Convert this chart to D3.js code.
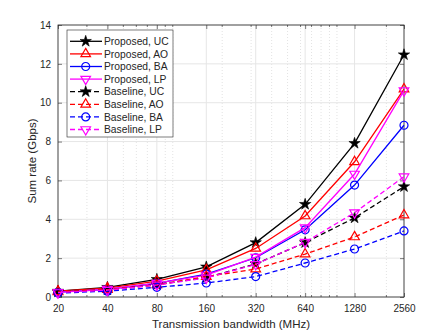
<!DOCTYPE html>
<html lang="en">
<head>
<meta charset="utf-8">
<title>Sum rate vs bandwidth</title>
<script src="https://cdn.jsdelivr.net/npm/d3@7"></script>
<style>
  body { margin: 0; background: white; font-family: "Liberation Sans", Arial, sans-serif; }
  svg { background: white; }
  .tick text { font-size: 10px; fill: #262626; font-family: "Liberation Sans", Arial, sans-serif; }
  .lbl { font-size: 11.5px; fill: #262626; }
  .leg text { font-size: 10.3px; fill: #262626; }
</style>
</head>
<body>
<svg id="chart"></svg>
<script>
// data
var bandwidth = [20, 40, 80, 160, 320, 640, 1280, 2560];
var yTicks = [0, 2, 4, 6, 8, 10, 12, 14];
var minorX = [30, 50, 60, 70, 90, 100, 200, 300, 400, 500, 600, 700, 800, 900, 1000, 2000];

var propUC = [0.30, 0.50, 0.91, 1.55, 2.80, 4.77, 7.91, 12.47];
var propAO = [0.30, 0.46, 0.82, 1.40, 2.50, 4.17, 6.96, 10.70];
var propBA = [0.25, 0.39, 0.70, 1.18, 2.02, 3.46, 5.76, 8.84];
var propLP = [0.24, 0.40, 0.71, 1.13, 2.05, 3.57, 6.33, 10.62];
var baseUC = [0.26, 0.36, 0.64, 1.00, 1.70, 2.80, 4.07, 5.68];
var baseAO = [0.26, 0.38, 0.62, 1.05, 1.44, 2.21, 3.09, 4.22];
var baseBA = [0.20, 0.30, 0.50, 0.72, 1.05, 1.75, 2.47, 3.40];
var baseLP = [0.23, 0.35, 0.62, 0.98, 1.68, 2.82, 4.34, 6.19];

var series = [
  {name: "Proposed, UC", vals: propUC, color: "#000000", mark: "star", dash: false},
  {name: "Proposed, AO", vals: propAO, color: "#ff0000", mark: "tri", dash: false},
  {name: "Proposed, BA", vals: propBA, color: "#0000ff", mark: "circ", dash: false},
  {name: "Proposed, LP", vals: propLP, color: "#ff00ff", mark: "trid", dash: false},
  {name: "Baseline, UC", vals: baseUC, color: "#000000", mark: "star", dash: true},
  {name: "Baseline, AO", vals: baseAO, color: "#ff0000", mark: "tri", dash: true},
  {name: "Baseline, BA", vals: baseBA, color: "#0000ff", mark: "circ", dash: true},
  {name: "Baseline, LP", vals: baseLP, color: "#ff00ff", mark: "trid", dash: true}
];

var W = 447, H = 335;
var margin = {top: 25, right: 43, bottom: 38, left: 58};
var width = W - margin.left - margin.right;
var height = H - margin.top - margin.bottom;

var svg = d3.select("#chart").attr("width", W).attr("height", H);
var g = svg.append("g").attr("transform", "translate(" + margin.left + "," + margin.top + ")");

var x = d3.scaleLog().base(2).domain([20, 2560]).range([0, width]);
var y = d3.scaleLinear().domain([0, 14]).range([height, 0]);

// grid
g.selectAll(".minor").data(minorX).enter().append("line")
  .attr("x1", d => x(d)).attr("x2", d => x(d))
  .attr("y1", 0).attr("y2", height)
  .attr("stroke", "#dcdcdc").attr("stroke-dasharray", "1,2").attr("stroke-width", 0.8);
g.selectAll(".gx").data(bandwidth).enter().append("line")
  .attr("x1", d => x(d)).attr("x2", d => x(d))
  .attr("y1", 0).attr("y2", height)
  .attr("stroke", "#e6e6e6").attr("stroke-width", 1);
g.selectAll(".gy").data(yTicks).enter().append("line")
  .attr("x1", 0).attr("x2", width)
  .attr("y1", d => y(d)).attr("y2", d => y(d))
  .attr("stroke", "#e6e6e6").attr("stroke-width", 1);

// axes (ticks inward, box)
var axisColor = "#262626";
g.append("g").attr("transform", "translate(0," + height + ")")
  .call(d3.axisBottom(x).tickValues(bandwidth).tickFormat(d3.format("d")).tickSizeInner(-4).tickSizeOuter(0).tickPadding(8));
g.append("g")
  .call(d3.axisLeft(y).tickValues(yTicks).tickSizeInner(-4).tickSizeOuter(0).tickPadding(7));
g.append("g").call(d3.axisTop(x).tickValues(bandwidth).tickFormat("").tickSizeInner(-4).tickSizeOuter(0));
g.append("g").attr("transform", "translate(" + width + ",0)")
  .call(d3.axisRight(y).tickValues(yTicks).tickFormat("").tickSizeInner(-4).tickSizeOuter(0));
// minor ticks
g.selectAll(".mt").data(minorX).enter().append("line")
  .attr("x1", d => x(d)).attr("x2", d => x(d))
  .attr("y1", height).attr("y2", height - 2)
  .attr("stroke", axisColor).attr("stroke-width", 0.6);
g.selectAll(".mtt").data(minorX).enter().append("line")
  .attr("x1", d => x(d)).attr("x2", d => x(d))
  .attr("y1", 0).attr("y2", 2)
  .attr("stroke", axisColor).attr("stroke-width", 0.6);
g.selectAll(".domain").remove();
g.selectAll(".tick line").attr("stroke", axisColor).attr("stroke-width", 0.6);
g.append("rect").attr("width", width).attr("height", height)
  .attr("fill", "none").attr("stroke", axisColor).attr("stroke-width", 0.8);

// labels
svg.append("text").attr("class", "lbl").attr("text-anchor", "middle")
  .attr("x", margin.left + width / 2).attr("y", H - 7)
  .text("Transmission bandwidth (MHz)");
svg.append("text").attr("class", "lbl").attr("text-anchor", "middle")
  .attr("transform", "translate(36," + (margin.top + height / 2) + ") rotate(-90)")
  .text("Sum rate (Gbps)");

// markers
function drawMarker(sel, s) {
  if (s.mark == "circ") {
    sel.append("circle").attr("r", 4)
      .attr("fill", "none").attr("stroke", s.color).attr("stroke-width", 1.2);
  } else if (s.mark == "star") {
    sel.append("path").attr("d", d3.symbol().type(d3.symbolStar).size(40)())
      .attr("fill", s.color).attr("stroke", s.color).attr("stroke-width", 0.6);
  } else {
    var rot = s.mark == "tri" ? 0 : 180;
    sel.append("path").attr("d", d3.symbol().type(d3.symbolTriangle).size(40)())
      .attr("transform", "rotate(" + rot + ")")
      .attr("fill", "none").attr("stroke", s.color).attr("stroke-width", 1.2);
  }
}

var line = d3.line().x((d, i) => x(bandwidth[i])).y(d => y(d));

series.forEach(function(s) {
  g.append("path").datum(s.vals)
    .attr("d", line)
    .attr("fill", "none").attr("stroke", s.color).attr("stroke-width", 1.3)
    .attr("stroke-dasharray", s.dash ? "5,3" : null);
  g.selectAll(null).data(s.vals).enter().append("g")
    .attr("transform", (d, i) => "translate(" + x(bandwidth[i]) + "," + y(d) + ")")
    .each(function() { drawMarker(d3.select(this), s); });
});

// legend
var leg = svg.append("g").attr("class", "leg").attr("transform", "translate(67,30)");
leg.append("rect").attr("width", 106).attr("height", 107)
  .attr("fill", "white").attr("stroke", axisColor).attr("stroke-width", 0.6);
series.forEach(function(s, i) {
  var row = leg.append("g").attr("transform", "translate(0," + (11.3 + i * 12.6) + ")");
  row.append("line").attr("x1", 3).attr("x2", 35).attr("y1", 0).attr("y2", 0)
    .attr("stroke", s.color).attr("stroke-width", 1.3)
    .attr("stroke-dasharray", s.dash ? "5,3" : null);
  drawMarker(row.append("g").attr("transform", "translate(18.7,0)"), s);
  row.append("text").attr("x", 37).attr("y", 3.6).text(s.name);
});
</script>
</body>
</html>
